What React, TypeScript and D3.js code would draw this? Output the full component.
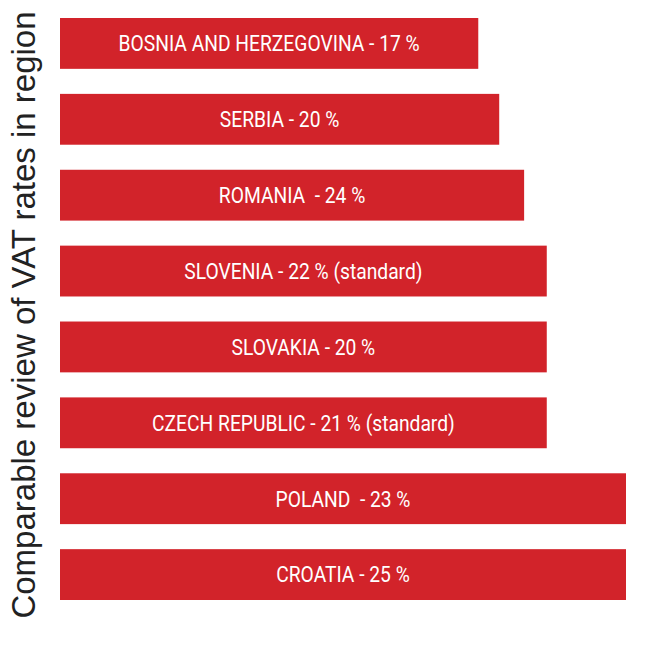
import React from "react";
import * as d3 from "d3";

const countries = [
  "BOSNIA AND HERZEGOVINA",
  "SERBIA",
  "ROMANIA ",
  "SLOVENIA",
  "SLOVAKIA",
  "CZECH REPUBLIC",
  "POLAND ",
  "CROATIA",
];
const vatRates = [17, 20, 24, 22, 20, 21, 23, 25];
const notes = ["", "", "", " (standard)", "", " (standard)", "", ""];
// Relative bar lengths as drawn in the original (longest = 100)
const barLengths = [73.9, 77.6, 82.0, 86.0, 86.0, 86.0, 100, 100];
const title = "Comparable review of VAT rates in region";

const W = 646;
const H = 648;

export default function App() {
  const x = d3.scaleLinear().domain([0, 100]).range([60, 626]);
  const y = d3
    .scaleBand<number>()
    .domain(d3.range(countries.length))
    .range([18, 600])
    .paddingInner(0.33)
    .paddingOuter(0);
  const bw = y.bandwidth();
  const sx = 0.875;
  return (
    <svg
      width={W}
      height={H}
      style={{ position: "absolute", left: 0, top: 0 }}
    >
      <rect width={W} height={H} fill="#fff" />
      {countries.map((c, i) => {
        const x0 = x(0);
        const x1 = x(barLengths[i]);
        const yy = y(i)!;
        const cx = (x0 + x1) / 2;
        return (
          <g key={i}>
            <rect x={x0} y={yy} width={x1 - x0} height={bw} fill="#d2232a" />
            <text
              transform={`translate(${cx},${yy + bw / 2 + 7.8}) scale(${sx},1)`}
              textAnchor="middle"
              fill="#fff"
              fontFamily="Roboto, 'Liberation Sans', sans-serif"
              fontSize={22}
              style={{ whiteSpace: "pre" }}
            >
              {`${c} - ${vatRates[i]} %${notes[i]}`}
            </text>
          </g>
        );
      })}
      <text
        transform={`translate(35,${315}) rotate(-90)`}
        textAnchor="middle"
        fill="#222"
        fontFamily="'Liberation Sans', Arial, sans-serif"
        fontSize={33}
      >
        {title}
      </text>
    </svg>
  );
}
